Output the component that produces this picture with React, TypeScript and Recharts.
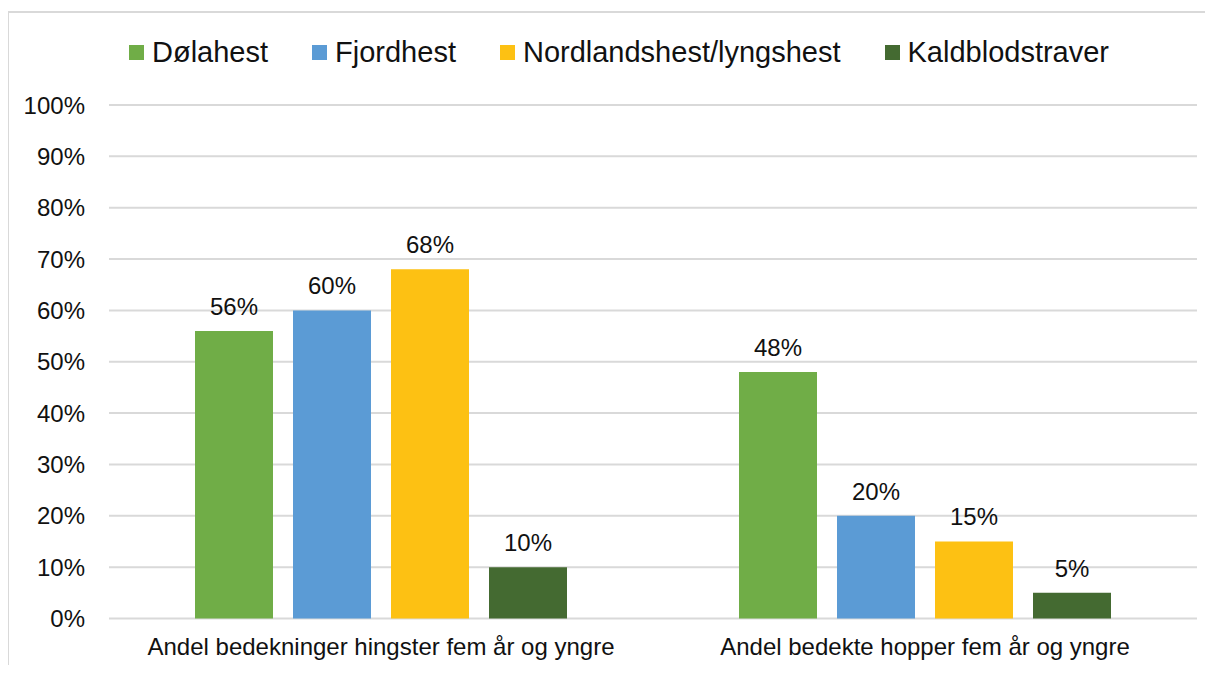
import { BarChart, Bar, XAxis, YAxis, CartesianGrid, Legend, LabelList } from "recharts";

const categories = [
  "Andel bedekninger hingster fem år og yngre",
  "Andel bedekte hopper fem år og yngre",
];
const dolahest = [56, 48];
const fjordhest = [60, 20];
const nordlandshest = [68, 15];
const kaldblodstraver = [10, 5];
const yTicks = [0, 10, 20, 30, 40, 50, 60, 70, 80, 90, 100];

const series = [
  { key: "dolahest", name: "Dølahest", color: "#70ad47" },
  { key: "fjordhest", name: "Fjordhest", color: "#5b9bd5" },
  { key: "nordlandshest", name: "Nordlandshest/lyngshest", color: "#fdc113" },
  { key: "kaldblodstraver", name: "Kaldblodstraver", color: "#446a31" },
];

const data = categories.map((name, i) => ({
  name,
  dolahest: dolahest[i],
  fjordhest: fjordhest[i],
  nordlandshest: nordlandshest[i],
  kaldblodstraver: kaldblodstraver[i],
}));

const font = '"Liberation Sans", Arial, sans-serif';

// legend drawn in series order (recharts sorts its payload)
const renderLegend = () => (
  <div style={{ display: "flex", alignItems: "center", gap: 44, fontSize: 29, color: "#111", fontFamily: font }}>
    {series.map((s) => (
      <div key={s.key} style={{ display: "flex", alignItems: "center" }}>
        <span style={{ width: 15, height: 15, background: s.color, marginRight: 8, display: "inline-block" }} />
        <span>{s.name}</span>
      </div>
    ))}
  </div>
);

export default function App() {
  return (
    <div style={{ margin: -8, width: 1213, height: 673, overflow: "hidden", position: "relative", background: "#fff", fontFamily: font }}>
      <div
        style={{
          position: "absolute",
          left: 7,
          top: 11,
          width: 1300,
          height: 800,
          borderLeft: "2px solid #d9d9d9",
          borderTop: "2px solid #d9d9d9",
        }}
      />
      <div style={{ position: "absolute", left: 0, top: 0 }}>
        <BarChart
          width={1213}
          height={673}
          data={data}
          margin={{ top: 105, right: 16, left: 9, bottom: 14.5 }}
          barGap={20}
          barSize={78}
        >
          <CartesianGrid vertical={false} stroke="#d9d9d9" strokeWidth={2} />
          <XAxis
            dataKey="name"
            height={40}
            axisLine={false}
            tickLine={false}
            tickSize={0}
            tickMargin={19}
            tick={{ fill: "#111", fontSize: 24, fontFamily: font }}
            interval={0}
          />
          <YAxis
            width={100}
            domain={[0, 100]}
            ticks={yTicks}
            axisLine={false}
            tickLine={false}
            tickSize={0}
            tickMargin={24}
            tickFormatter={(v: number) => `${v}%`}
            tick={{ fill: "#111", fontSize: 24, fontFamily: font }}
          />
          <Legend
            verticalAlign="middle"
            align="center"
            content={renderLegend}
            wrapperStyle={{ top: 32, left: 129, width: "auto", lineHeight: "40px" }}
          />
          {series.map((s) => (
            <Bar key={s.key} dataKey={s.key} name={s.name} fill={s.color} isAnimationActive={false}>
              <LabelList
                dataKey={s.key}
                position="top"
                offset={16}
                formatter={(v: any) => `${v}%`}
                style={{ fill: "#111", fontSize: 24, fontFamily: font }}
              />
            </Bar>
          ))}
        </BarChart>
      </div>
    </div>
  );
}
